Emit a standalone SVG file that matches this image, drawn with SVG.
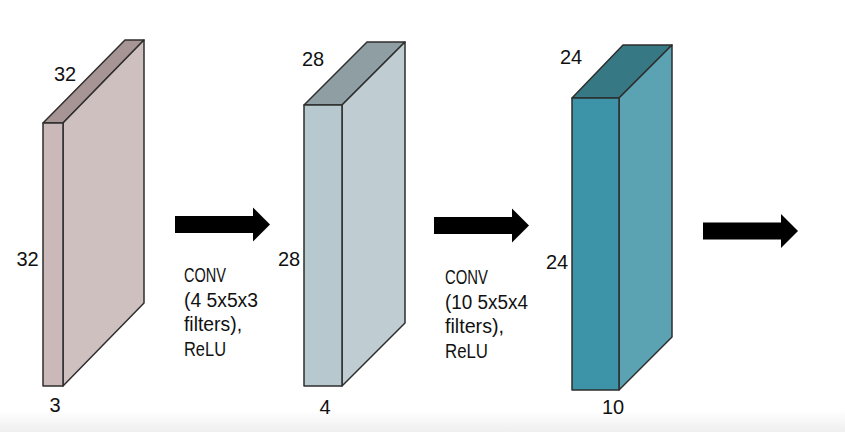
<svg xmlns="http://www.w3.org/2000/svg" width="845" height="432" viewBox="0 0 845 432">
  <defs>
    <linearGradient id="bottomShade" x1="0" y1="0" x2="0" y2="1">
      <stop offset="0" stop-color="#ffffff"/>
      <stop offset="1" stop-color="#efefef"/>
    </linearGradient>
    <path id="bigArrow" d="M0,-8.5 H78 V-17 L95,0 L78,17 V8.5 H0 Z"/>
  </defs>
  <style>
    .face { stroke: #2e2e2e; stroke-width: 1.5; stroke-linejoin: round; }
    .lbl { font-family: "Liberation Sans", "Open Sans", sans-serif; font-size: 20.5px; fill: #111111; }
    .num { text-anchor: middle; font-size: 20px; }
    .arrow { fill: #000000; }
  </style>
  <rect x="0" y="0" width="845" height="432" fill="#ffffff"/>
  <rect x="0" y="410" width="845" height="22" fill="url(#bottomShade)"/>

  <g id="volume-input">
    <polygon class="face" fill="#a79595" points="43,123 125,40 144,40 63,123"/>
    <polygon class="face" fill="#cfc0c0" points="63,123 144,40 144,303 63,386"/>
    <rect class="face" fill="#cbb8b8" x="43" y="123" width="20" height="263"/>
    <text class="lbl num" x="65" y="81">32</text>
    <text class="lbl num" x="27.5" y="266">32</text>
    <text class="lbl num" x="55" y="412">3</text>
  </g>

  <g id="volume-conv1">
    <polygon class="face" fill="#8f9ea3" points="304,105 367,42 405,42 342,105"/>
    <polygon class="face" fill="#bfcdd2" points="342,105 405,42 405,323 342,386"/>
    <rect class="face" fill="#b7c9cf" x="304" y="105" width="38" height="281"/>
    <text class="lbl num" x="313" y="66">28</text>
    <text class="lbl num" x="289" y="266">28</text>
    <text class="lbl num" x="325" y="414">4</text>
  </g>

  <g id="volume-conv2">
    <polygon class="face" fill="#367985" points="572,98 623,45 672,45 619,98"/>
    <polygon class="face" fill="#5ba2b2" points="619,98 672,45 672,337 619,390"/>
    <rect class="face" fill="#3d93a7" x="572" y="98" width="47" height="292"/>
    <text class="lbl num" x="571" y="64">24</text>
    <text class="lbl num" x="557" y="269">24</text>
    <text class="lbl num" x="613" y="414">10</text>
  </g>

  <g id="connectors">
    <use href="#bigArrow" class="arrow" transform="translate(175,224.5)"/>
    <use href="#bigArrow" class="arrow" transform="translate(434,225.5)"/>
    <use href="#bigArrow" class="arrow" transform="translate(703,231)"/>
  </g>

  <g id="label-conv1">
    <text class="lbl" x="184" y="282" textLength="42" lengthAdjust="spacingAndGlyphs">CONV</text>
    <text class="lbl" x="184" y="306.5" textLength="74" lengthAdjust="spacingAndGlyphs">(4 5x5x3</text>
    <text class="lbl" x="184" y="331" textLength="58" lengthAdjust="spacingAndGlyphs">filters),</text>
    <text class="lbl" x="184" y="355.5" textLength="42" lengthAdjust="spacingAndGlyphs">ReLU</text>
  </g>

  <g id="label-conv2">
    <text class="lbl" x="445" y="284" textLength="43" lengthAdjust="spacingAndGlyphs">CONV</text>
    <text class="lbl" x="445" y="308.5" textLength="83" lengthAdjust="spacingAndGlyphs">(10 5x5x4</text>
    <text class="lbl" x="445" y="333" textLength="59" lengthAdjust="spacingAndGlyphs">filters),</text>
    <text class="lbl" x="445" y="357.5" textLength="43" lengthAdjust="spacingAndGlyphs">ReLU</text>
  </g>
</svg>
